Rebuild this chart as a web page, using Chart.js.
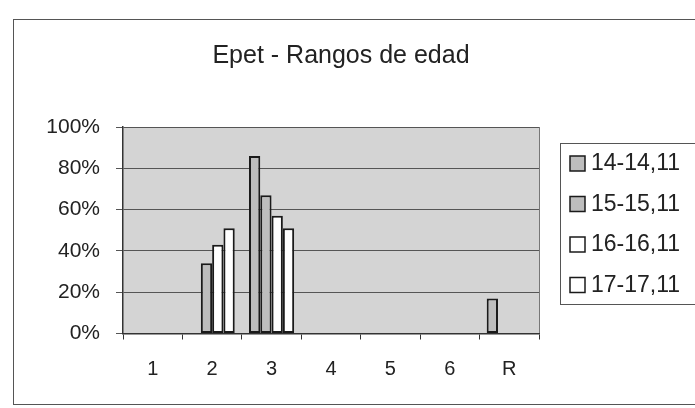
<!DOCTYPE html>
<html>
<head>
<meta charset="utf-8">
<script src="https://cdn.jsdelivr.net/npm/chart.js@4.4.0/dist/chart.umd.min.js"></script>
<style>
  html, body { margin: 0; padding: 0; background: #fff; }
  #wrap { width: 695px; height: 408px; }
</style>
</head>
<body>
<div id="wrap"><canvas id="chart" width="695" height="408"></canvas></div>
<script>
const categories = ["1", "2", "3", "4", "5", "6", "R"];
const seriesNames = ["14-14,11", "15-15,11", "16-16,11", "17-17,11"];
const s14 = [null, null, 86, null, null, null, 17];
const s15 = [null, 34, 67, null, null, null, null];
const s16 = [null, 43, 57, null, null, null, null];
const s17 = [null, 51, 51, null, null, null, null];
const yTicks = [0, 20, 40, 60, 80, 100];
const fills = ["#bdbdbd", "#bdbdbd", "#ffffff", "#ffffff"];

const FONT = "'Liberation Sans', Arial, sans-serif";
const TEXT = "#222";

// excel-ish frame: outer border, gray plot area
const frame = {
  id: "frame",
  beforeDraw(chart) {
    const { ctx, chartArea: a } = chart;
    ctx.save();
    ctx.fillStyle = "#fff";
    ctx.fillRect(0, 0, chart.width, chart.height);
    ctx.strokeStyle = "#555";
    ctx.lineWidth = 1;
    ctx.strokeRect(13.5, 19.5, 700, 385);
    ctx.fillStyle = "#d4d4d4";
    ctx.fillRect(a.left, a.top, a.right - a.left, a.bottom - a.top);
    ctx.strokeStyle = "#777";
    ctx.beginPath();
    ctx.moveTo(a.right + 0.5, a.top);
    ctx.lineTo(a.right + 0.5, a.bottom);
    ctx.stroke();
    ctx.restore();
  }
};

// legend in its own box to the right of the plot, like the excel one
const boxLegend = {
  id: "boxLegend",
  afterDraw(chart) {
    const ctx = chart.ctx;
    const a = chart.chartArea;
    const x0 = a.right + 21;
    const y0 = 163;
    const step = 40.5;
    ctx.save();
    ctx.strokeStyle = "#555";
    ctx.lineWidth = 1;
    ctx.strokeRect(a.right + 21.5, 143.5, 200, 161);
    ctx.font = "23px " + FONT;
    ctx.textBaseline = "middle";
    ctx.textAlign = "left";
    chart.data.datasets.forEach((ds, i) => {
      const y = y0 + i * step;
      ctx.fillStyle = ds.backgroundColor;
      ctx.fillRect(x0 + 10, y - 7, 15, 15);
      ctx.strokeStyle = ds.borderColor;
      ctx.lineWidth = 1.5;
      ctx.strokeRect(x0 + 10, y - 7, 15, 15);
      ctx.fillStyle = TEXT;
      ctx.fillText(ds.label, x0 + 31, y + 1);
    });
    ctx.restore();
  }
};

const datasets = [s14, s15, s16, s17].map((d, i) => ({
  label: seriesNames[i],
  data: d,
  backgroundColor: fills[i],
  borderColor: "#1a1a1a",
  borderWidth: 2,
  borderSkipped: false
}));

new Chart(document.getElementById("chart"), {
  type: "bar",
  data: { labels: categories, datasets },
  plugins: [frame, boxLegend],
  options: {
    responsive: false,
    animation: false,
    devicePixelRatio: 1,
    layout: { padding: { top: 38, right: 13, bottom: 0, left: 0 } },
    datasets: { bar: { categoryPercentage: 0.76, barPercentage: 1 } },
    scales: {
      x: {
        grid: { drawOnChartArea: false, color: "#333", tickLength: 6, offset: true },
        border: { color: "#333", width: 1.5 },
        ticks: { color: TEXT, font: { size: 20, family: FONT }, padding: 18 },
        afterFit: s => { s.height = 74.5; }
      },
      y: {
        min: 0,
        max: 100,
        grid: { color: "#555", tickLength: 7 },
        border: { color: "#333", width: 1.5 },
        ticks: { color: TEXT, font: { size: 21, family: FONT }, padding: 16, callback: v => v + "%" },
        afterBuildTicks: s => { s.ticks = yTicks.map(v => ({ value: v })); },
        afterFit: s => { s.width = 123; }
      },
      y2: {
        position: "right",
        grid: { display: false },
        ticks: { display: false },
        border: { display: false },
        afterFit: s => { s.width = 143; }
      }
    },
    plugins: {
      title: {
        display: true,
        text: "Epet - Rangos de edad",
        color: TEXT,
        font: { size: 25, family: FONT, weight: "normal" },
        padding: { top: 3, bottom: 56 }
      },
      legend: { display: false },
      tooltip: { enabled: false }
    }
  }
});
</script>
</body>
</html>
